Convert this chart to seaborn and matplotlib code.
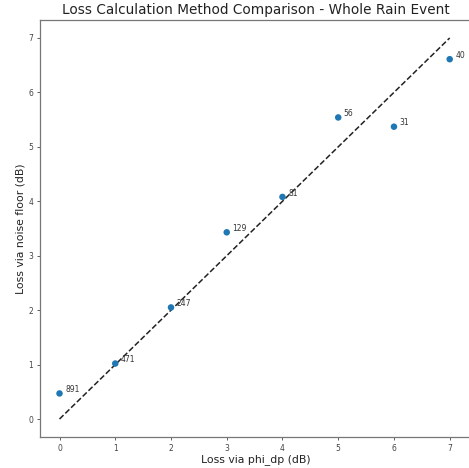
import numpy as np
import pandas as pd
import seaborn as sns
import matplotlib.pyplot as plt

# loss values per method
phi_dp_loss = [0, 1, 2, 3, 4, 5, 6, 7]
noise_floor_loss = [0.47, 1.02, 2.05, 3.43, 4.08, 5.54, 5.37, 6.61]
counts = [891, 471, 247, 129, 81, 56, 31, 40]

df = pd.DataFrame({"phi_dp": phi_dp_loss, "noise": noise_floor_loss, "n": counts})

sns.set_style("ticks")
fig = plt.figure(figsize=(4.69, 4.68), dpi=100)
ax = fig.add_axes([40 / 469, 31 / 468, 432 / 469, 417 / 468])

sns.scatterplot(data=df, x="phi_dp", y="noise", s=22, color="#1f77b4",
                edgecolor="none", ax=ax, zorder=3)

# 1:1 reference line
ax.plot([0, 7], [0, 7], linestyle="--", color="#222222", linewidth=1.1, zorder=2)

for _, row in df.iterrows():
    ax.annotate(str(int(row["n"])), (row["phi_dp"], row["noise"]),
                xytext=(4, 1), textcoords="offset points", fontsize=5.5,
                color="#333333")

ax.set_xlim(-0.35, 7.4)
ax.set_ylim(-0.33, 7.33)
ax.set_xticks(range(8))
ax.set_yticks(range(8))
ax.tick_params(labelsize=5.5, colors="#444444", length=2.5, width=0.6, pad=2.5)
for s in ax.spines.values():
    s.set_color("#777777")
    s.set_linewidth(0.9)
ax.spines["right"].set_visible(False)

ax.set_xlabel("Loss via phi_dp (dB)", fontsize=7.8, color="#222222", labelpad=1)
ax.set_ylabel("Loss via noise floor (dB)", fontsize=7.8, color="#222222", labelpad=2)
ax.set_title("Loss Calculation Method Comparison - Whole Rain Event",
             fontsize=9.8, color="#222222", pad=4)

plt.savefig("out.png", dpi=100)
